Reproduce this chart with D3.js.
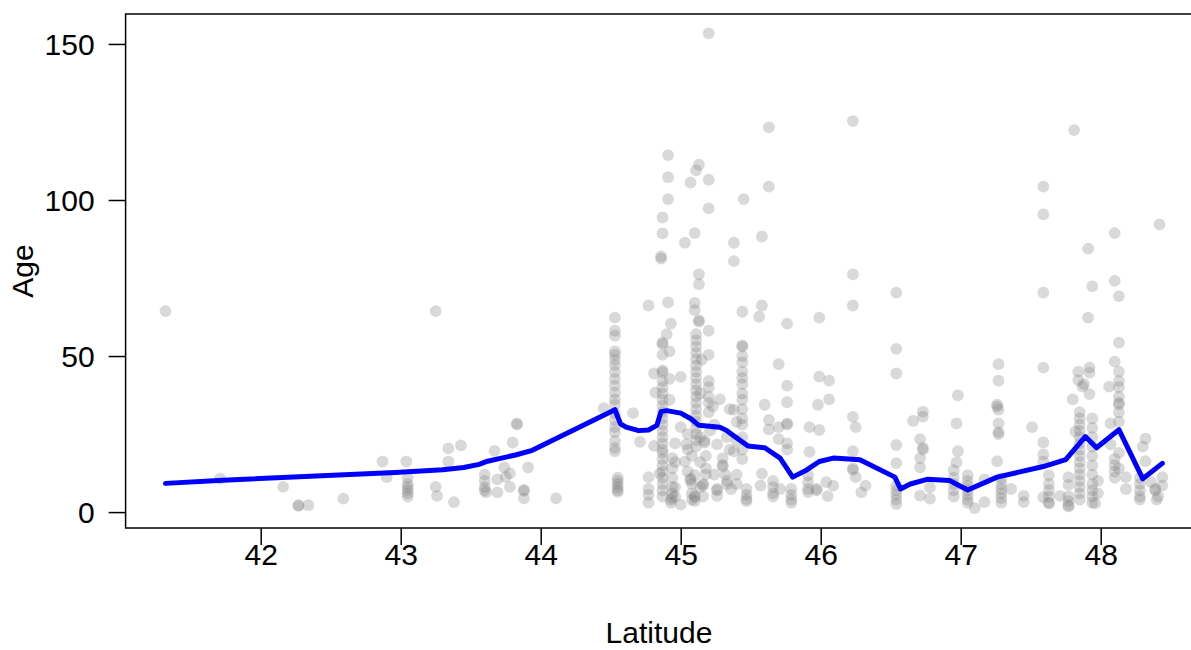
<!DOCTYPE html>
<html>
<head>
<meta charset="utf-8">
<script src="https://cdn.jsdelivr.net/npm/d3@7.9.0/dist/d3.min.js"></script>
<style>
  body { margin: 0; background: #fff; }
  text { font-family: "Liberation Sans", Arial, sans-serif; fill: #000; }
</style>
</head>
<body>
<script>
// sites: latitude of each sampling site and the ages found there
const siteLat = [
  41.32, 41.71, 42.16, 42.27, 42.34, 42.59, 42.87, 42.90, 43.04, 43.05,
  43.25, 43.26, 43.34, 43.38, 43.43, 43.60, 43.61, 43.67, 43.69, 43.74,
  43.75, 43.78, 43.80, 43.83, 43.88, 43.91, 44.11, 44.45, 44.53, 44.55,
  44.66, 44.71, 44.77, 44.81, 44.82, 44.85, 44.86, 44.87, 44.90, 44.91,
  44.92, 44.93, 44.94, 45.00, 45.03, 45.04, 45.05, 45.07, 45.10, 45.11,
  45.13, 45.15, 45.16, 45.17, 45.18, 45.20, 45.21, 45.23, 45.24, 45.26,
  45.28, 45.30, 45.32, 45.33, 45.35, 45.36, 45.38, 45.40, 45.44, 45.45,
  45.47, 45.56, 45.57, 45.58, 45.60, 45.63, 45.66, 45.70, 45.71, 45.76,
  45.79, 45.91, 45.92, 45.97, 45.98, 45.99, 46.04, 46.05, 46.06, 46.09,
  46.23, 46.25, 46.29, 46.32, 46.54, 46.66, 46.71, 46.73, 46.78, 46.95,
  46.97, 46.98, 47.05, 47.10, 47.17, 47.26, 47.27, 47.29, 47.36, 47.45,
  47.51, 47.59, 47.63, 47.71, 47.77, 47.80, 47.81, 47.82, 47.84, 47.85,
  47.87, 47.88, 47.91, 47.92, 47.94, 47.96, 47.98, 48.06, 48.07, 48.10,
  48.13, 48.18, 48.28, 48.30, 48.32, 48.36, 48.39, 48.40, 48.41, 48.42,
  48.44, 44.96, 45.08, 45.14
];
const siteAges = [
  [64.4], [10.7], [8.1], [2.2, 2.0], [2.2], [4.3], [16.2], [11.2], [16.2], [11, 9, 8, 7, 6, 5],
  [64.4, 8.1], [5.2], [20.4, 16.2], [3.2], [21.4], [12, 10, 8, 7], [6.3], [19.6], [6.3, 10.5], [14.3],
  [11.3], [12.4, 8.1], [22.3], [28.4, 28.0], [7.1, 6.8, 4.4], [14.3], [4.4], [33.3],
  [62.3, 58.1, 56.5, 51.5, 50.4, 48.8, 47.1, 44.9, 42.7, 40.5, 38.3, 36.1, 34.4, 31.7, 29.5, 27.2, 25.6, 22.8, 20.6, 19.5],
  [11, 10, 9, 8, 7, 6.5],
  [31.7], [22.5], [66.2, 11.2, 7.4, 5.5, 3], [44.4, 21.2], [38.3], [12.3], [81.9, 81.2],
  [94.4, 89.3, 54.3, 53.8, 50.4, 45.4, 44.8, 42, 40, 38, 36, 34, 32, 30, 28, 26, 24, 22, 20, 19, 17, 15, 13, 11, 9, 7, 5],
  [57.0], [114.4, 107.3, 100.3, 67.2],
  [51.5, 42.7, 36], [60.4, 4, 3], [17.3, 14, 11, 8, 6, 4.6], [27.2, 43.3, 2.4], [86.3, 16.2], [21.7], [25, 20, 13], [105.6, 10.7, 10.2], [89.4, 67, 64.7, 11.8, 5.2, 4.8, 3.5],
  [109.5, 57, 55, 53, 51, 49, 47, 45, 43, 41, 39, 37, 35, 33, 31, 29, 27, 25, 23, 21],
  [111.3, 76.2, 73, 61.5, 61], [48.8], [9, 8.6, 5], [22.8, 22.3], [18, 14, 12],
  [153.4, 106.5, 97.3, 58.1, 50.4, 42, 40, 37, 35, 32], [26.1], [33.9], [28, 12], [21.7, 7.4, 7, 5.2],
  [36.1], [17.3, 15.1, 14.6], [12], [24, 10, 9], [33, 20], [7.4], [86.3, 80.4, 32.8, 19.5], [28.9, 23, 12, 9],
  [64.2, 53.4, 53, 50, 48, 45, 43, 41, 38, 36, 33, 30, 28, 24, 20, 17], [100.3],
  [7.4, 5.5, 4.2, 3.5], [62.6], [8.5], [66.2, 88.3, 12.3], [34.4], [123.3, 104.3, 29.5, 26.5], [10, 8, 6, 5], [47.4, 27.2, 23.4], [7.4], [60.4, 40.5, 35.2, 28.4, 28, 22, 20],
  [7.4, 5.5, 4, 3], [11.8, 9.6, 7.4, 6.4], [27.2, 19.3], [7.4, 7], [34.4], [26.3, 62.3, 43.4], [9.6], [5.1], [42.1, 36.1], [8.5],
  [125.3, 76.2, 66.2, 30.5, 19.5, 14, 13.5], [27.2, 11.2], [6.3], [8.5], [70.3, 52.3, 44.4, 21.5, 15.7, 8.5, 7, 5.5, 4, 2.6], [29.2], [23.4, 17.3, 14.3, 5.3], [32.2, 30.6, 20.6, 20], [4.3, 7.9], [13.4, 11, 9, 7, 5],
  [28.4, 15.9], [37.4, 19.5], [11.8, 10, 8.5, 7, 5.5, 4, 3], [1.3], [3.2, 10.5], [34.4, 33.8, 16.3], [47.4, 42.1, 32.8, 28.4, 25.6, 25], [10.8, 9, 7.4, 6, 4.5, 3], [7.4], [5.2, 3.2],
  [27.2], [104.3, 95.4, 70.3, 46.3, 22.3, 18.5, 16.2, 4.7], [11.8, 9, 7, 5, 3, 2.8], [5.2], [11.2, 8.7, 5, 3.5, 2.2, 1.8], [36.1], [122.4], [25.8], [45, 42.3],
  [32, 30, 28, 26, 24, 22, 20, 18, 16, 14, 12, 10, 8, 6, 4],
  [40.2], [41], [84.4, 62.3], [46.3, 44.7, 37.8], [72.3, 30, 27, 24, 21, 18, 15, 12, 9, 7, 5, 3], [2.8], [10, 6], [40.2], [28.4, 21.7], [89.4, 74.1, 48.2, 17, 15, 13, 11],
  [69.2, 54.3, 45, 42, 40, 37, 35, 34.5, 32, 29, 19, 14], [11.2, 7.4], [11, 9, 7, 5, 4], [21], [23.5, 16.3], [9.6], [7.4, 7], [4], [5], [92.2],
  [11.2, 8.5], [22, 16, 8, 5], [18, 9, 6, 4], [38, 24, 16, 8]
];

// smoothed trend line
const lineLat = [41.32, 41.73, 42.96, 43.30, 43.45, 43.56, 43.62, 43.72, 43.82, 43.94,
  44.53, 44.57, 44.61, 44.70, 44.77, 44.83, 44.86, 44.90, 45.00, 45.07,
  45.13, 45.28, 45.33, 45.41, 45.48, 45.60, 45.71, 45.80, 45.90, 45.99,
  46.09, 46.28, 46.53, 46.57, 46.64, 46.76, 46.92, 47.05, 47.26, 47.59,
  47.75, 47.89, 47.97, 48.13, 48.30, 48.44];
const lineAge = [9.2, 10.2, 12.7, 13.6, 14.3, 15.3, 16.3, 17.3, 18.3, 19.8,
  32.8, 28.3, 27.2, 26.1, 26.3, 27.8, 32.2, 32.5, 31.7, 30.0,
  27.8, 27.2, 26.1, 23.4, 21.2, 20.6, 17.3, 11.2, 13.5, 16.2,
  17.3, 16.8, 11.2, 7.4, 9.0, 10.5, 10.1, 7.1, 11.2, 14.6,
  16.8, 24.2, 20.6, 26.4, 10.7, 15.6];

const xTicks = [42, 43, 44, 45, 46, 47, 48];
const yTicks = [0, 50, 100, 150];

const width = 1191, height = 650;
const svg = d3.select('body').append('svg')
  .attr('width', width)
  .attr('height', height);

const x = d3.scaleLinear().domain([41.035, 48.725]).range([125.6, 1202.2]);
const y = d3.scaleLinear().domain([-5.1, 159.6]).range([528, 14]);

let points = [];
siteLat.forEach((lat, i) => {
  siteAges[i].forEach(a => points.push({ lat: lat, age: a }));
});

svg.append('g')
  .selectAll('circle')
  .data(points)
  .join('circle')
  .attr('cx', d => x(d.lat))
  .attr('cy', d => y(d.age))
  .attr('r', 5.9)
  .attr('fill', 'rgba(128,128,128,0.3)');

const line = d3.line()
  .x(d => x(d[0]))
  .y(d => y(d[1]));

svg.append('path')
  .attr('d', line(lineLat.map((v, i) => [v, lineAge[i]])))
  .attr('fill', 'none')
  .attr('stroke', '#0000ff')
  .attr('stroke-width', 5)
  .attr('stroke-linejoin', 'round')
  .attr('stroke-linecap', 'round');

// plot frame
svg.append('rect')
  .attr('x', 125.6).attr('y', 14)
  .attr('width', 1202.2 - 125.6).attr('height', 528 - 14)
  .attr('fill', 'none')
  .attr('stroke', '#000')
  .attr('stroke-width', 1.5);

const fontSize = '30px';

const xAxis = svg.append('g')
  .attr('transform', 'translate(0,528)')
  .call(d3.axisBottom(x).tickValues(xTicks).tickSize(17).tickPadding(0).tickFormat(d3.format('d')));
xAxis.select('.domain').remove();
xAxis.selectAll('line').attr('stroke-width', 1.5);
xAxis.selectAll('text')
  .attr('y', 37).attr('dy', null)
  .style('font-size', fontSize)
  .style('font-family', '"Liberation Sans", Arial, sans-serif');

const yAxis = svg.append('g')
  .attr('transform', 'translate(125.6,0)')
  .call(d3.axisLeft(y).tickValues(yTicks).tickSize(17).tickPadding(0));
yAxis.select('.domain').remove();
yAxis.selectAll('line').attr('stroke-width', 1.5);
yAxis.selectAll('text')
  .attr('x', -31).attr('dy', '0.36em')
  .style('font-size', fontSize)
  .style('font-family', '"Liberation Sans", Arial, sans-serif');

svg.append('text')
  .attr('x', 659)
  .attr('y', 643)
  .attr('text-anchor', 'middle')
  .style('font-size', fontSize)
  .text('Latitude');

svg.append('text')
  .attr('transform', 'translate(33,' + (14 + 528) / 2 + ') rotate(-90)')
  .attr('text-anchor', 'middle')
  .style('font-size', fontSize)
  .text('Age');
</script>
</body>
</html>
